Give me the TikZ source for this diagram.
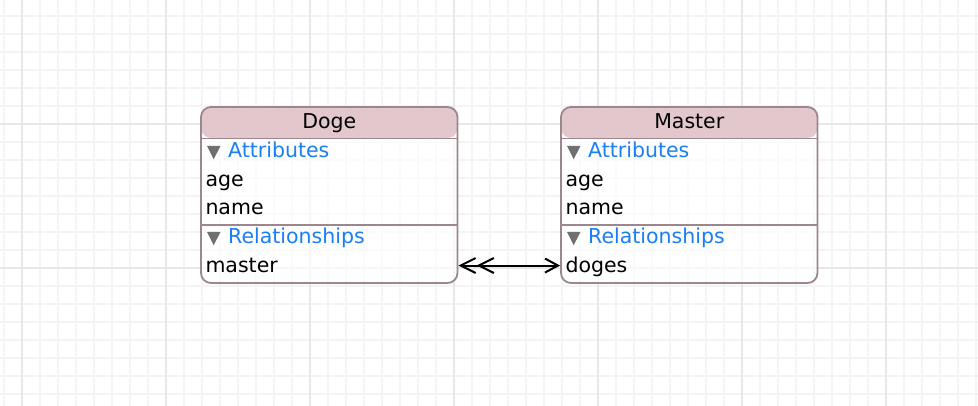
\documentclass[tikz,border=0pt]{standalone}
\usepackage{fontspec}
\setmainfont{DejaVu Sans}
\usetikzlibrary{arrows.meta}

\definecolor{gridminor}{RGB}{244,244,244}
\definecolor{gridmajor}{RGB}{231,231,231}
\definecolor{boxline}{RGB}{155,135,141}
\definecolor{headpink}{RGB}{226,199,205}
\definecolor{attrblue}{RGB}{26,127,245}
\definecolor{discgray}{RGB}{112,112,112}

\tikzset{
	minorline/.style={gridminor, line width=1.3pt},
	majorline/.style={gridmajor, line width=1.3pt},
	entity/.style={draw=boxline, line width=1.8pt, rounded corners=10pt, fill=white, fill opacity=0.7,
		minimum width=256.5pt, minimum height=176pt, inner sep=0pt,
		path picture={\fill[headpink, fill opacity=1] (path picture bounding box.north west) rectangle ([yshift=-31pt]path picture bounding box.north east);}},
	sepline/.style={boxline, line width=1.8pt},
	row/.style={font=\fontsize{20.5}{24}\selectfont, inner sep=0pt, anchor=base west, text height=17pt, text depth=3.5pt},
	sect/.style={row, text=attrblue},
	title/.style={font=\fontsize{20.5}{24}\selectfont, inner sep=0pt, anchor=base},
	disc/.pic={\fill[discgray] (0,0) -- (13.4,0) -- (6.7,13.3) -- cycle;},
	rel/.style={line width=2pt, {Straight Barb[length=15pt,width=15pt] Straight Barb[length=15pt,width=15pt]}-{Straight Barb[length=13pt,width=14pt]}}
}

\begin{document}
\begin{tikzpicture}[x=1pt, y=-1pt]
		%%%%% START %%%%%
		
		\useasboundingbox (0,0) rectangle (978,406);
		\fill[white] (0,0) rectangle (978,406);
		
		\foreach \gx in {4,22,...,976} \draw[minorline] (\gx,0) -- (\gx,406);
		\foreach \gy in {16,34,...,394} \draw[minorline] (0,\gy) -- (978,\gy);
		\foreach \gx in {22,166,...,886} \draw[majorline] (\gx,0) -- (\gx,406);
		\foreach \gy in {124,268} \draw[majorline] (0,\gy) -- (978,\gy);
		
		%%%%% DOGE %%%%%
		\node[entity] (doge) at (329.25,195) {};
		\draw[sepline] (doge.west |- 0,138.5) -- (doge.east |- 0,138.5);
		\draw[sepline] (doge.west |- 0,225.3) -- (doge.east |- 0,225.3);
		\node[title] (dogetitle) at (329.25,128.3) {Doge};
		\pic at (207,146) {disc};
		\node[sect] (dogeattr) at (228,157.7) {Attributes};
		\node[row] (dogeage) at (205.3,186.3) {age};
		\node[row] (dogename) at (205.3,215) {name};
		\pic at (207,232) {disc};
		\node[sect] (dogerels) at (228,243.7) {Relationships};
		\node[row] (dogemaster) at (205.3,272.3) {master};
		
		%%%%% MASTER %%%%%
		\node[entity] (master) at (689.25,195) {};
		\draw[sepline] (master.west |- 0,138.5) -- (master.east |- 0,138.5);
		\draw[sepline] (master.west |- 0,225.3) -- (master.east |- 0,225.3);
		\node[title] (mastertitle) at (689.25,128.3) {Master};
		\pic at (567,146) {disc};
		\node[sect] (masterattr) at (588,157.7) {Attributes};
		\node[row] (masterage) at (565.3,186.3) {age};
		\node[row] (mastername) at (565.3,215) {name};
		\pic at (567,232) {disc};
		\node[sect] (masterrels) at (588,243.7) {Relationships};
		\node[row] (masterdoges) at (565.3,272.3) {doges};
		
		\draw[rel] (doge.east |- dogemaster) -- (master.west |- masterdoges);
		
		%%%%% END %%%%%
\end{tikzpicture}
\end{document}
